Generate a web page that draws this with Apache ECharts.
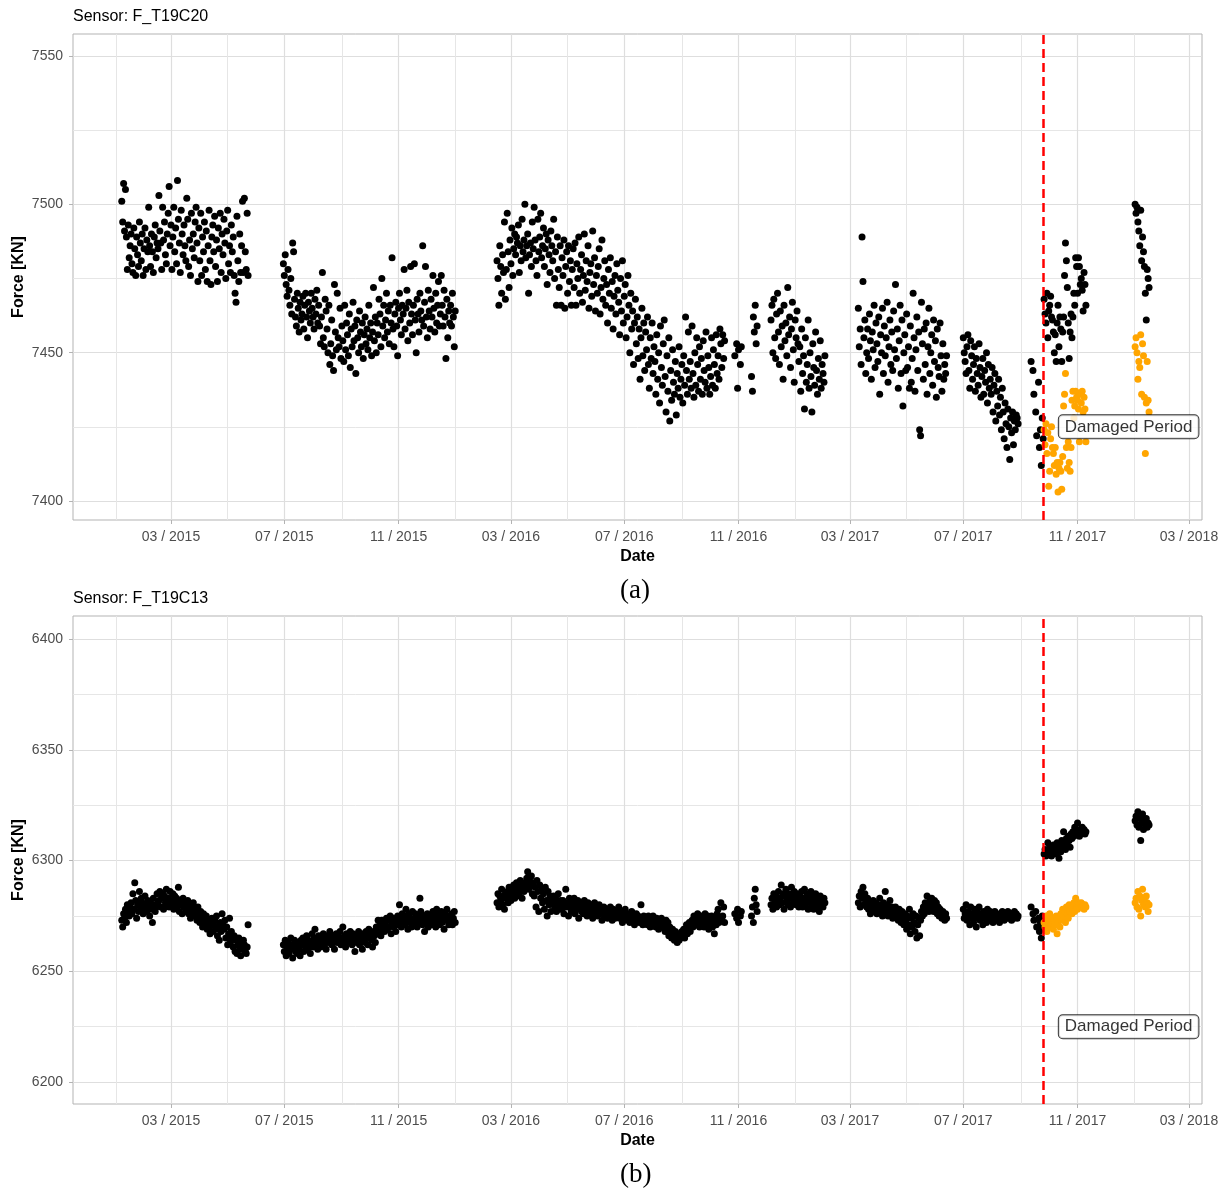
<!DOCTYPE html>
<html><head><meta charset="utf-8">
<script src="https://cdn.jsdelivr.net/npm/echarts@6/dist/echarts.min.js"></script>
<style>html,body{margin:0;padding:0;background:#fff}#c{width:1221px;height:1189px}</style>
</head><body><div id="c"></div>
<script>
// ---------- DATA ----------
// Start date of each measurement segment (one reading per day, null = missing)
const segStarts = ['2015-01-07','2015-06-30','2016-02-15','2016-10-28','2017-03-10','2017-07-01','2017-09-12','2017-09-26','2018-01-02'];
const damagedStarts = ['2017-09-26','2018-01-02'];
const damageDate = '2017-09-25';
const labelDate = '2017-12-26';
const labelValueA = 7425;
const labelValueB = 6225;
const majorTicks = ['2015-03-01','2015-07-01','2015-11-01','2016-03-01','2016-07-01','2016-11-01','2017-03-01','2017-07-01','2017-11-01','2018-03-01'];
const minorTicks = ['2015-01-01','2015-05-01','2015-09-01','2016-01-01','2016-05-01','2016-09-01','2017-01-01','2017-05-01','2017-09-01','2018-01-01'];
const yTicksA = [7400,7450,7500,7550];
const yMinorA = [7425,7475,7525];
const yTicksB = [6200,6250,6300,6350,6400];
const yMinorB = [6225,6275,6325,6375];

// Sensor F_T19C20
const a1 = [7501,7494,7507,7491,7505,7489,7478,7493,7482,7486,
7490,7480,7477,7492,7485,7476,7489,7483,7479,7494,
7487,7481,7490,7476,7485,7492,7478,7488,7484,7499,
7486,7479,7490,7484,7477,7489,7493,7482,7487,7485,
7503,7491,7487,7478,7499,7488,7494,7483,7480,7490,
7497,7506,7486,7493,7478,7489,7499,7484,7492,7480,
7508,7495,7487,7477,7498,7490,7483,7493,7486,7481,
7502,7495,7479,7488,7476,7497,7485,7490,7482,7494,
7499,7487,7474,7492,7481,7497,7476,7489,7484,7494,
7478,7491,7474,7486,7498,7481,7473,7489,7493,7484,
7496,7479,7488,7474,7492,7485,7497,7477,7490,7483,
7495,7487,7475,7491,7498,7480,7486,7477,7493,7484,
7489,7476,7470,7467,7496,7481,7474,7490,7477,7486,
7501,7477,7502,7484,7478,7497,7476];
const a2 = [7480,7476,7483,7473,7469,7478,7471,7466,7475,7463,
7487,7484,7468,7462,7459,7470,7465,7457,7467,7461,
7463,7469,7458,7466,7470,7462,7455,7467,7464,7460,
7470,7465,7462,7458,7468,7463,7471,7460,7466,7459,
7453,7462,7477,7455,7452,7468,7464,7458,7450,7466,
7446,7453,7461,7449,7444,7473,7457,7451,7470,7455,
7452,7465,7448,7459,7454,7447,7466,7451,7460,7456,
7449,7463,7445,7458,7452,7467,7454,7459,7443,7461,
7455,7450,7464,7457,7452,7460,7448,7456,7462,7453,
7458,7451,7466,7455,7460,7449,7457,7472,7454,7462,
7450,7460,7456,7468,7463,7452,7475,7459,7466,7455,
7461,7470,7457,7464,7453,7466,7460,7482,7458,7452,
7463,7467,7459,7449,7465,7470,7461,7456,7466,7463,
7478,7458,7465,7471,7454,7467,7460,7479,7463,7456,
7466,7480,7461,7450,7468,7463,7457,7470,7464,7461,
7486,7459,7467,7479,7462,7455,7471,7464,7458,7468,
7462,7476,7465,7457,7470,7460,7466,7474,7459,7463,
7476,7466,7459,7471,7462,7448,7468,7455,7464,7460,
7466,7459,7470,7462,7452,7464];
const a3 = [7481,7475,7466,7486,7479,7470,7483,7477,7494,7468,
7478,7497,7484,7472,7488,7480,7492,7476,7485,7490,
7483,7489,7487,7493,7477,7486,7481,7495,7484,7488,
7500,7482,7486,7490,7470,7483,7487,7479,7494,7485,
7499,7488,7481,7476,7495,7484,7489,7497,7482,7486,
7492,7479,7485,7490,7473,7488,7483,7477,7491,7486,
7481,7495,7475,7484,7466,7489,7478,7472,7486,7466,
7482,7476,7488,7465,7479,7484,7470,7486,7474,7481,
7466,7478,7485,7472,7487,7466,7480,7475,7489,7470,
7478,7483,7467,7476,7490,7471,7481,7474,7486,7465,
7477,7480,7469,7491,7473,7482,7464,7476,7470,7479,
7485,7463,7472,7488,7468,7475,7481,7466,7473,7460,
7478,7470,7482,7465,7474,7458,7469,7476,7463,7480,
7471,7467,7456,7475,7464,7481,7460,7469,7473,7455,
7462,7476,7466,7450,7470,7458,7464,7446,7460,7468,
7453,7462,7448,7458,7441,7455,7465,7449,7460,7444,
7457,7451,7462,7446,7438,7455,7448,7460,7443,7452,
7447,7436,7456,7441,7450,7433,7459,7445,7439,7453,
7461,7442,7430,7449,7437,7455,7427,7444,7434,7451,
7440,7436,7447,7429,7443,7438,7452,7435,7441,7446,
7433,7449,7439,7462,7444,7436,7457,7441,7447,7438,
7459,7443,7435,7450,7439,7455,7446,7437,7452,7441,
7448,7436,7454,7444,7440,7457,7438,7449,7445,7436,
7442,7455,7439,7451,7446,7438,7456,7443,7449,7441,
7458,7453,7445,7456,7448,7454];
const a4 = [7449,null,7453,7438,7451,null,7446,7452,
null,null,null,null,null,null,null,null,null,null,
7442,7437,7462,7457,7466,7453,7459,null,null,
null,null,null,null,null,null,null,null,null,null,null,null,
7461,7466,7450,7468,7455,7448,7463,7470,7457,7446,7464,7452,7459,7441,7466,7454,7460,7449,7472,7456,7462,7445,7458,7467,7451,7440,7461,7455,7464,7453,7447,
7452,7437,7458,7443,7449,7431,7455,7440,7446,7461,7438,7450,7442,7430,7453,7445,7439,7457,7444,7436,7448,7441,7454,7438,7446,7443,7440,7449];
const a5 = [7465,7452,7458,7446,7489,7474,7455,7461,7443,7450,
7458,7448,7463,7454,7441,7457,7451,7466,7445,7460,
7453,7447,7462,7436,7456,7450,7465,7443,7459,7449,
7455,7467,7440,7452,7461,7446,7457,7444,7464,7451,
7473,7448,7458,7438,7454,7466,7443,7461,7432,7450,
7456,7444,7463,7445,7452,7438,7459,7440,7448,7470,
7455,7437,7451,7462,7444,7457,7424,7422,7467,7453,
7441,7458,7446,7460,7436,7452,7465,7443,7450,7456,
7439,7461,7447,7454,7435,7458,7445,7442,7460,7449,
7437,7453,7441,7446,7443,7449];
const a6 = [7455,7450,7447,7443,7452,7456,7444,7438,7454,7449,
7441,7446,7452,7437,7448,7443,7439,7453,7445,7435,
7442,7448,7436,7444,7440,7450,7433,7446,7438,7441,
7436,7445,7430,7439,7443,7427,7437,7432,7441,7429,
7435,7424,7438,7430,7421,7433,7426,7418,7431,7425,
7414,7428,7423,7430,7419,7427,7424,7429,7428,7426];
const a7 = [7447,null,7444,7436,null,7430,7422,null,7440,7418,7424,7412,7428,7421];
const a8 = [7468,7463,7460,7470,7455,7464,7466,7469,7462,7461,
7457,7450,7456,7447,7460,7466,7452,7462,7458,7447,
7457,7462,7476,7487,7481,7472,7460,7448,7457,7463,
7455,7462,7470,7466,7482,7479,7470,7482,7479,7473,
7475,7471,7464,7477,7473,7466];
const a9 = [7500,7497,7499,7494,7491,7486,7498,7481,7489,7484,7479,7470,7461,7478,7475,7472];
const aDam1 = [7424,7419,7426,7416,7423,7405,7410,7421,7425,7418,
7416,7412,7418,7409,7413,7403,7411,7413,7410,7404,
7415,7432,7436,7443,7418,7411,7420,7413,7410,7418,
7434,7437,7428,7432,7437,7435,7434,7431,7420,7436,
7433,7437,7430,7435,7431,7420];
const aDam2 = [7452,7455,7450,7441,7447,7445,7456,7436,7453,7449,7435,7416,7433,7447,7434,7430];

// Sensor F_T19C13
const b1 = [6273,6270,6276,6274,6278,6272,6280,6277,6275,6279,
6281,6276,6285,6278,6290,6282,6274,6280,6277,6286,
6279,6283,6281,6276,6278,6284,6280,6277,6282,6279,
6275,6281,6278,6272,6283,6280,6277,6279,6285,6281,
6282,6286,6279,6283,6285,6278,6284,6281,6287,6280,
6283,6279,6286,6282,6280,6285,6278,6284,6281,6283,
6279,6288,6277,6282,6280,6276,6283,6279,6281,6277,
6278,6282,6276,6280,6274,6279,6277,6281,6275,6278,
6276,6273,6279,6275,6272,6277,6274,6270,6276,6273,
6271,6275,6269,6273,6270,6267,6272,6274,6268,6271,
6273,6269,6275,6266,6270,6264,6272,6268,6276,6271,
6269,6273,6265,6270,6262,6267,6274,6263,6268,6265,
6261,6266,6259,6264,6258,6262,6265,6260,6257,6263,
6260,6264,6262,6259,6258,6261,6271];
const b2 = [6262,6259,6264,6257,6261,6263,6258,6260,6265,6262,
6256,6261,6264,6259,6262,6258,6263,6260,6257,6264,
6262,6265,6259,6263,6261,6266,6260,6264,6262,6258,
6263,6267,6261,6265,6269,6262,6264,6260,6266,6263,
6261,6265,6263,6267,6262,6264,6260,6266,6263,6265,
6268,6264,6262,6266,6263,6260,6265,6267,6263,6266,
6264,6268,6262,6265,6270,6263,6266,6261,6267,6264,
6266,6263,6268,6265,6262,6267,6264,6259,6266,6263,
6265,6268,6262,6266,6264,6260,6267,6265,6263,6268,
6266,6262,6269,6265,6267,6264,6261,6268,6266,6263,
6270,6267,6273,6268,6271,6266,6273,6269,6272,6268,
6271,6274,6269,6273,6270,6275,6267,6272,6274,6270,
6273,6268,6272,6275,6271,6280,6274,6270,6276,6272,
6275,6271,6278,6273,6269,6276,6272,6274,6270,6277,
6273,6271,6276,6274,6270,6275,6272,6283,6277,6273,
6271,6275,6268,6274,6272,6276,6270,6273,6275,6271,
6274,6277,6272,6275,6270,6278,6273,6276,6271,6274,
6277,6272,6275,6269,6276,6273,6278,6274,6271,6275,
6273,6276,6271,6274,6277,6272];
const b3 = [6281,6285,6279,6284,6282,6287,6280,6283,6278,6285,
6283,6286,6281,6288,6284,6282,6287,6285,6289,6283,
6286,6290,6284,6288,6285,6291,6287,6283,6289,6286,
6290,6288,6292,6295,6287,6291,6289,6293,6285,6290,
6284,6288,6279,6291,6286,6277,6289,6283,6287,6281,
6285,6278,6288,6282,6275,6286,6280,6284,6277,6282,
6281,6284,6279,6283,6277,6281,6285,6278,6282,6280,
6278,6282,6276,6280,6287,6279,6281,6275,6283,6279,
6277,6281,6278,6283,6276,6280,6278,6282,6274,6279,
6281,6277,6280,6276,6282,6278,6279,6275,6281,6277,
6279,6276,6280,6274,6278,6281,6276,6279,6275,6277,
6280,6276,6278,6273,6277,6279,6275,6278,6276,6274,
6277,6275,6279,6276,6273,6278,6276,6274,6277,6275,
6276,6279,6274,6277,6275,6272,6276,6274,6278,6275,
6273,6276,6274,6272,6275,6277,6273,6275,6271,6274,
6276,6273,6275,6272,6274,6280,6273,6271,6275,6273,
6272,6274,6271,6275,6273,6270,6274,6272,6275,6271,
6273,6270,6274,6272,6269,6273,6271,6274,6270,6272,
6271,6268,6273,6269,6272,6266,6270,6267,6265,6269,
6266,6264,6268,6265,6263,6267,6264,6266,6265,6268,
6266,6269,6265,6268,6271,6267,6270,6272,6268,6271,
6273,6270,6275,6272,6274,6271,6276,6273,6270,6274,
6275,6272,6274,6270,6276,6273,6271,6275,6269,6274,
6272,6275,6270,6273,6267,6274,6271,6276,6278,6272,
6274,6281,6273,6275,6279,6272];
const b4 = [6276,null,6274,6278,6272,null,6275,6277,
null,null,null,null,null,null,null,null,null,null,
6275,6279,6272,6283,6287,6280,6277,null,null,
null,null,null,null,null,null,null,null,null,null,null,null,
6280,6283,6278,6285,6281,6284,6279,6282,6286,6280,6283,6289,6281,6285,6278,6284,6287,6282,6280,6285,6283,6279,6288,6284,6281,6286,6282,6280,6285,6283,6279,
6284,6281,6286,6279,6283,6287,6280,6282,6285,6278,6283,6281,6286,6280,6284,6278,6282,6285,6279,6283,6281,6277,6284,6280,6282,6279,6283,6281];
const b5 = [6281,6284,6279,6286,6283,6288,6280,6285,6282,6279,
6283,6278,6281,6276,6280,6278,6282,6277,6279,6281,
6276,6280,6278,6283,6277,6279,6275,6281,6278,6286,
6277,6280,6275,6278,6282,6276,6279,6274,6278,6276,
6279,6275,6277,6273,6278,6276,6272,6277,6274,6271,
6276,6273,6269,6275,6271,6278,6267,6274,6270,6276,
6272,6268,6275,6265,6271,6274,6266,6273,6277,6275,
6279,6276,6281,6278,6284,6280,6277,6282,6279,6283,
6280,6277,6282,6278,6281,6276,6279,6275,6278,6276,
6274,6277,6275,6273,6276,6274];
const b6 = [6278,6274,6276,6280,6273,6277,6275,6271,6279,6274,
6276,6272,6278,6275,6270,6277,6274,6279,6273,6276,
6275,6271,6277,6274,6276,6272,6278,6275,6273,6277,
6274,6276,6272,6275,6277,6273,6276,6274,6275,6272,
6276,6274,6277,6275,6273,6276,6274,6275,6277,6274,
6276,6275,6273,6276,6274,6277,6275,6276,6274,6275];
const b7 = [6279,null,6276,6273,null,6277,6270,null,6274,6268,6272,6265,6275,6270];
const b8 = [6303,6305,6302,6304,6308,6303,6306,6304,6302,6305,
6307,6304,6306,6303,6308,6305,6301,6307,6304,6309,
6306,6313,6308,6305,6310,6307,6311,6309,6306,6312,
6310,6313,6311,6315,6312,6314,6317,6313,6311,6314,
6312,6315,6313,6314,6312,6313];
const b9 = [6318,6320,6316,6322,6315,6319,6309,6317,6321,6314,6318,6316,6319,6315,6317,6316];
const bDam1 = [6272,6270,6275,6268,6273,6271,6276,6270,6274,6272,
6269,6273,6271,6275,6267,6272,6274,6270,6276,6273,
6278,6274,6277,6272,6279,6276,6274,6280,6277,6278,
6276,6279,6281,6277,6283,6279,6278,6281,6280,6279,
6281,6279,6280,6278,6280,6279];
const bDam2 = [6281,6283,6279,6286,6278,6284,6275,6282,6287,6280,6283,6279,6284,6281,6277,6280];

// ---------- BUILD ----------
function ts(s){const p=s.split('-').map(Number);return Date.UTC(p[0],p[1]-1,p[2]);}
function build(starts, segs){
  const out=[];
  segs.forEach((vals,k)=>{
    const p=starts[k].split('-').map(Number);
    vals.forEach((v,i)=>{ if(v!==null) out.push([Date.UTC(p[0],p[1]-1,p[2]+i), v]); });
  });
  return out;
}
const blackA = build(segStarts,[a1,a2,a3,a4,a5,a6,a7,a8,a9]);
const orangeA = build(damagedStarts,[aDam1,aDam2]);
const blackB = build(segStarts,[b1,b2,b3,b4,b5,b6,b7,b8,b9]);
const orangeB = build(damagedStarts,[bDam1,bDam2]);

const FONT = "'Liberation Sans', Arial, sans-serif";
const X_MIN = Date.UTC(2014,10,15,12);
const X_MAX = Date.UTC(2018,2,15);
const majorTs = majorTicks.map(ts);
const minorTs = minorTicks.map(ts);
function pad(n){return n<10?'0'+n:''+n;}
function fmt(v){const d=new Date(v);return pad(d.getUTCMonth()+1)+' / '+d.getUTCFullYear();}

function xMajor(g){return {type:'value',gridIndex:g,min:X_MIN,max:X_MAX,scale:true,
  axisLine:{show:false},
  axisTick:{show:true,customValues:majorTs,length:4,lineStyle:{color:'#b3b3b3',width:1}},
  axisLabel:{customValues:majorTs,formatter:fmt,color:'#4d4d4d',fontSize:14,margin:10,fontFamily:FONT},
  splitLine:{show:true,lineStyle:{color:'#dedede',width:1.2}},
  name:'Date',nameLocation:'middle',nameGap:29,nameMoveOverlap:false,
  nameTextStyle:{color:'#000',fontWeight:'bold',fontSize:16,fontFamily:FONT}};}
function xMinor(g){return {type:'value',gridIndex:g,min:X_MIN,max:X_MAX,scale:true,
  axisLine:{show:false},axisTick:{show:false,customValues:minorTs},axisLabel:{show:false,customValues:minorTs},
  splitLine:{show:true,lineStyle:{color:'#e6e6e6',width:1}}};}
function yMajor(g,lo,hi,ticks){return {type:'value',gridIndex:g,min:lo,max:hi,scale:true,
  axisLine:{show:false},
  axisTick:{show:true,customValues:ticks,length:4,lineStyle:{color:'#b3b3b3',width:1}},
  axisLabel:{customValues:ticks,formatter:v=>String(v),color:'#4d4d4d',fontSize:14,margin:10,fontFamily:FONT},
  splitLine:{show:true,lineStyle:{color:'#dedede',width:1.2}},
  name:'Force [KN]',nameLocation:'middle',nameGap:46,nameRotate:90,nameMoveOverlap:false,
  nameTextStyle:{color:'#000',fontWeight:'bold',fontSize:16,fontFamily:FONT}};}
function yMinor(g,lo,hi,ticks){return {type:'value',gridIndex:g,min:lo,max:hi,scale:true,
  axisLine:{show:false},axisTick:{show:false,customValues:ticks},axisLabel:{show:false,customValues:ticks},
  splitLine:{show:true,lineStyle:{color:'#e6e6e6',width:1}}};}

function panelSeries(xi, yi, black, orange, labelVal){
  return [
    {type:'scatter',xAxisIndex:xi,yAxisIndex:yi,data:black,symbolSize:7,
     itemStyle:{color:'#000',opacity:1},z:2,
     markLine:{silent:true,symbol:'none',label:{show:false},animation:false,
       lineStyle:{color:'#ff0000',width:2.5,type:[9,5]},data:[{xAxis:ts(damageDate)}]}},
    {type:'scatter',xAxisIndex:xi,yAxisIndex:yi,data:orange,symbolSize:7,
     itemStyle:{color:'#FFA500',opacity:1},z:3},
    {type:'scatter',xAxisIndex:xi,yAxisIndex:yi,data:[[ts(labelDate),labelVal]],
     symbolSize:1,itemStyle:{color:'rgba(0,0,0,0)'},z:10,silent:true,
     label:{show:true,position:'inside',formatter:'Damaged Period',color:'#000',
       fontSize:17,fontFamily:FONT,backgroundColor:'#fff',borderColor:'#000',
       borderWidth:1,borderRadius:4,padding:[3,6]}}
  ];
}

const chart = echarts.init(document.getElementById('c'),null,{renderer:'canvas'});
chart.setOption({
  animation:false,
  backgroundColor:'#fff',
  title:[
    {text:'Sensor: F_T19C20',left:73,top:9,padding:0,textStyle:{color:'#000',fontWeight:'normal',fontSize:16,fontFamily:FONT}},
    {text:'Sensor: F_T19C13',left:73,top:591,padding:0,textStyle:{color:'#000',fontWeight:'normal',fontSize:16,fontFamily:FONT}}
  ],
  graphic:[
    {type:'text',left:620,top:577,style:{text:'(a)',font:"27px 'Liberation Serif', serif",fill:'#000'}},
    {type:'text',left:620,top:1161,style:{text:'(b)',font:"27px 'Liberation Serif', serif",fill:'#000'}}
  ],
  grid:[
    {left:73,top:34,width:1129,height:486,show:true,borderColor:'#b3b3b3',borderWidth:1,backgroundColor:'transparent',outerBoundsMode:'none',containLabel:false},
    {left:73,top:616,width:1129,height:488,show:true,borderColor:'#b3b3b3',borderWidth:1,backgroundColor:'transparent',outerBoundsMode:'none',containLabel:false}
  ],
  xAxis:[xMajor(0),xMinor(0),xMajor(1),xMinor(1)],
  yAxis:[yMajor(0,7393.6,7557.4,yTicksA),yMinor(0,7393.6,7557.4,yMinorA),
         yMajor(1,6190.1,6410.4,yTicksB),yMinor(1,6190.1,6410.4,yMinorB)],
  series:[].concat(panelSeries(0,0,blackA,orangeA,labelValueA),panelSeries(2,2,blackB,orangeB,labelValueB))
});
</script></body></html>
